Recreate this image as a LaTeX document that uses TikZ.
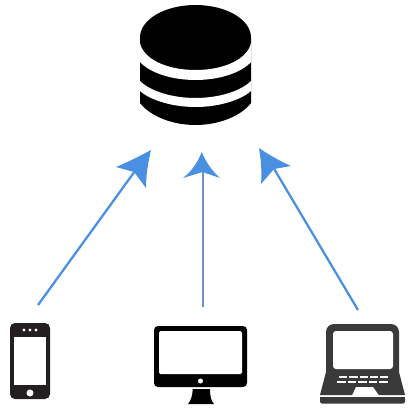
\documentclass[tikz,border=0pt]{standalone}
\definecolor{arrowblue}{HTML}{4A90E2}
\definecolor{midblue}{HTML}{6C92CC}
\definecolor{phoneblack}{HTML}{231F20}
\definecolor{laptopgrey}{HTML}{3A3A3A}
\tikzset{
  shaft/.style={line width=1.7pt,color=arrowblue,line cap=butt},
  head/.style={fill=arrowblue,draw=none},
  gap/.style={fill=white,draw=none},
}
\begin{document}
\begin{tikzpicture}[x=0.75pt,y=-0.75pt]
\useasboundingbox (0,0) rectangle (414,407);
% database
\fill[black] (140,37.5) .. controls (140,19.5) and (164.9,5) .. (195.5,5)
  .. controls (226.1,5) and (251,19.5) .. (251,37.5) -- (251,103)
  .. controls (241,116) and (219,125) .. (195.5,125)
  .. controls (172,125) and (150,116) .. (140,103) -- cycle;
\path[gap] (140,43) .. controls (143,58) and (164.9,70) .. (195.5,70)
  .. controls (226.1,70) and (248,58) .. (251,43) -- (251,62)
  .. controls (241,73) and (219,80) .. (195.5,80)
  .. controls (172,80) and (150,73) .. (140,62) -- cycle;
\path[gap] (140,81) .. controls (150,91) and (172,98) .. (195.5,98)
  .. controls (219,98) and (241,91) .. (251,81) -- (251,91)
  .. controls (241,100) and (219,107) .. (195.5,107)
  .. controls (172,107) and (150,100) .. (140,91) -- cycle;
% phone
\fill[phoneblack,rounded corners=5*0.75pt] (10,323) rectangle (50,399);
\fill[white] (14,337) rectangle (46,385);
\foreach \dx in {24,30,36}{\fill[white] (\dx,330) circle[radius=1.6*0.75pt];}
\fill[white] (30,393) circle[radius=3.5*0.75pt];
% monitor
\fill[black,rounded corners=4*0.75pt] (154,326) rectangle (247,387);
\fill[white,rounded corners=1.5*0.75pt] (159,331) rectangle (242,374);
\fill[white] (200.5,381) circle[radius=2.5*0.75pt];
\fill[black] (192.7,389) -- (210,389) .. controls (210,396) and (211,401) .. (214,404)
  -- (188,404) .. controls (190.5,401) and (192.7,396) .. (192.7,389) -- cycle;
% laptop
\fill[laptopgrey,rounded corners=8*0.75pt] (326,380) -- (326,324) -- (399,324) -- (399,380) -- cycle;
\fill[laptopgrey] (326,372) -- (399,372) -- (405,395) -- (320,395) -- cycle;
\fill[white,rounded corners=3*0.75pt] (333,331) rectangle (393,369);
\fill[white] (352,395.5) -- (356,387) -- (373,387) -- (379,395.5) -- cycle;
\foreach \kx in {339,349.3,359.6,369.9,380.2}{\fill[white] (\kx,375.8) rectangle +(8.2,2.2);}
\foreach \kx in {337,347.6,358.2,368.8,379.4}{\fill[white] (\kx,381) rectangle +(8.6,2.2);}
\fill[laptopgrey,rounded corners=2*0.75pt] (320,397) -- (405,397) -- (405,403.5) -- (320,403.5) -- cycle;
\fill[laptopgrey] (320,397) rectangle (405,400);
% connector end points
\coordinate (phoneTop) at (38,305);
\coordinate (phoneHead) at (135,171);
\coordinate (monitorTop) at (203,307);
\coordinate (monitorHead) at (203,170);
\coordinate (laptopTop) at (358,310);
\coordinate (laptopHead) at (273,167);
\draw[shaft] (phoneTop) -- (phoneHead);
\draw[shaft,color=midblue,line width=2pt] (monitorTop) -- (monitorHead);
\draw[shaft] (laptopTop) -- (laptopHead);
% arrowheads
\path[head] (151,150) .. controls (140,156) and (128,162) .. (116,167)
  -- (134,172) -- (146,188)
  .. controls (146,175) and (148,163) .. (151,150) -- cycle;
\path[head] (201.7,152) .. controls (198,162) and (192,171) .. (183,178)
  -- (202.5,172) -- (220,178)
  .. controls (212,171) and (206,162) .. (201.7,152) -- cycle;
\path[head] (259,148) .. controls (269,155) and (280,161) .. (291,166)
  -- (274,169) -- (261,184)
  .. controls (262,172) and (261,160) .. (259,148) -- cycle;
\end{tikzpicture}
\end{document}
